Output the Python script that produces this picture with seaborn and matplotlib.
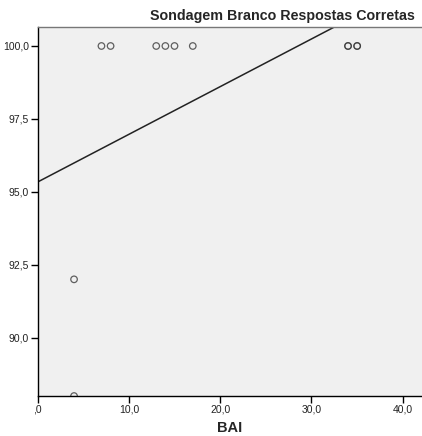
import matplotlib
matplotlib.use("Agg")
import matplotlib.pyplot as plt
import matplotlib.ticker as mticker
import seaborn as sns
import pandas as pd

sns.set_style("white")
plt.rcParams["font.family"] = ["Liberation Sans", "DejaVu Sans"]

# BAI score and percentage of correct answers (white probe)
bai = [4, 4, 7, 8, 13, 14, 15, 17, 34, 34, 35, 35]
correct = [88.0, 92.0, 100.0, 100.0, 100.0, 100.0, 100.0, 100.0, 100.0, 100.0, 100.0, 100.0]

x_ticks = [0, 10, 20, 30, 40]
y_ticks = [90.0, 92.5, 95.0, 97.5, 100.0]

df = pd.DataFrame({"BAI": bai, "Correct": correct})

fig = plt.figure(figsize=(4.22, 4.36), dpi=100)
ax = fig.add_axes([0.0889, 0.0917, 0.9111, 0.8463])
ax.set_facecolor("#f0f0f0")
ax.set_xlim(0, 42.1)
ax.set_ylim(88.0, 100.65)

sns.regplot(
    data=df, x="BAI", y="Correct", ax=ax, ci=None, truncate=False,
    scatter_kws=dict(s=22, facecolors="none", edgecolors="#3a3a3a", linewidths=0.9, clip_on=True),
    line_kws=dict(color="#222222", lw=1.1),
)
ax.set_xlim(0, 42.1)
ax.set_ylim(88.0, 100.65)

def comma_fmt(v, pos):
    s = f"{v:.1f}".replace(".", ",")
    if s.startswith("0,"):
        s = s[1:]
    return s

ax.set_xticks(x_ticks)
ax.set_yticks(y_ticks)
ax.xaxis.set_major_formatter(mticker.FuncFormatter(comma_fmt))
ax.yaxis.set_major_formatter(mticker.FuncFormatter(comma_fmt))
ax.tick_params(axis="both", which="major", direction="out", length=5, width=1,
               color="black", labelsize=7.5, labelcolor="#222222", pad=1,
               bottom=True, left=True)

for side in ("left", "bottom"):
    ax.spines[side].set_color("black")
    ax.spines[side].set_linewidth(1.0)
ax.spines["top"].set_color("#777777")
ax.spines["top"].set_linewidth(1.0)
ax.spines["right"].set_visible(False)

ax.set_xlabel("BAI", fontsize=10.5, fontweight="bold", labelpad=5)
ax.set_ylabel("")
fig.text(0.984, 0.948, "Sondagem Branco Respostas Corretas", ha="right", va="bottom",
         fontsize=10.3, fontweight="bold")

fig.savefig("out.png", dpi=100)
